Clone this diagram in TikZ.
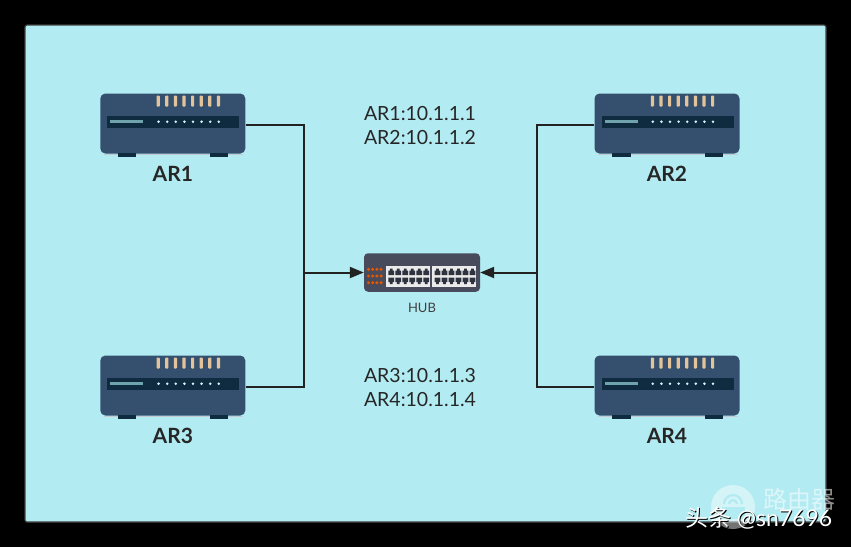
\documentclass[tikz,border=0pt]{standalone}
\usepackage{fontspec}
\setmainfont{Lato}
\newfontfamily\cjk{Noto Sans CJK SC}
\usetikzlibrary{arrows.meta}
\definecolor{panelc}{HTML}{B2EBF2}
\definecolor{rbody}{HTML}{34506E}
\definecolor{rdark}{HTML}{0F2B3F}
\definecolor{rled}{HTML}{E3C49A}
\definecolor{rbar}{HTML}{6FA3AE}
\definecolor{hubc}{HTML}{474B5C}
\definecolor{portc}{HTML}{2F3340}
\definecolor{linec}{HTML}{222222}
\tikzset{
 x=1pt,y=-1pt,
 routerbox/.style={fill=rbody,rounded corners=5pt,minimum width=145pt,minimum height=60pt,inner sep=0pt,draw=none},
 hubbox/.style={fill=hubc,rounded corners=4pt,minimum width=116pt,minimum height=38.5pt,inner sep=0pt,draw=none},
 namelabel/.style={font=\fontsize{21}{23}\selectfont\bfseries,text=black!85,inner sep=0pt},
 iplabel/.style={font=\fontsize{19.5}{23.5}\selectfont,text=black!85,align=center,inner sep=0pt},
 hublabel/.style={font=\fontsize{13}{15}\selectfont,text=black!75,inner sep=0pt},
 link/.style={draw=linec,line width=2pt},
 linkarrow/.style={link,-{Triangle[length=14pt,width=11pt]}},
 router/.pic={
  \fill[white!70!rbody] (-69,30.5) rectangle (70.5,31.5);
  \fill[rdark] (-55,29.5) rectangle (-36.5,33);
  \fill[rdark] (37.5,29.5) rectangle (55.5,33);
  \fill[rdark] (-65.5,-8) rectangle (66.5,4.5);
  \fill[rbar] (-62.5,-3.5) rectangle (-29.5,-0.5);
  \foreach \i in {0,...,7}{
   \fill[rled,rounded corners=0.8pt] ({-16.2+8.6*\i},-28) rectangle ++(3.2,11);
   \fill[white!85!cyan] ({-14.2+8.6*\i},-1.8) circle (1.4);
  }
 },
 hubports/.pic={
  \fill[white!92!black] (0,0) rectangle (44,21.3);
  \foreach \i in {0,...,5}{
   \fill[portc] ({2.4+7*\i},9) -- ++(0,-4.5) -- ++(1.5,0) -- ++(0,-2) -- ++(2.6,0) -- ++(0,2) -- ++(1.5,0) -- ++(0,4.5) -- cycle;
   \fill[portc] ({2.4+7*\i},11.5) -- ++(0,4.5) -- ++(1.5,0) -- ++(0,2) -- ++(2.6,0) -- ++(0,-2) -- ++(1.5,0) -- ++(0,-4.5) -- cycle;
  }
 }
}
\begin{document}
\begin{tikzpicture}
\useasboundingbox (0,0) rectangle (851,547);
\fill[black] (0,0) rectangle (851,547);
\node[fill=panelc,draw=black!75,line width=1.2pt,rounded corners=2pt,minimum width=801pt,minimum height=497pt,inner sep=0pt] (panel) at (425.5,273.5) {};
% routers
\node[routerbox] (ar1) at (172.8,123.5) {};
\node[routerbox] (ar2) at (667,123.5) {};
\node[routerbox] (ar3) at (172.8,385.5) {};
\node[routerbox] (ar4) at (667,385.5) {};
\pic at (ar1.center) {router};
\pic at (ar2.center) {router};
\pic at (ar3.center) {router};
\pic at (ar4.center) {router};
% hub
\node[hubbox] (hub) at (422,272.5) {};
\foreach \r in {269.3,276,282.7}{
 \foreach \c in {368.5,372.7,376.9,381.1}{
  \fill[orange!75!red!90!black] (\c,\r) circle (1.7);
 }
}
\pic at (386,266) {hubports};
\pic at (432.3,266) {hubports};
% connectors
\coordinate (jl) at (304,272.5);
\coordinate (jr) at (537,272.5);
\draw[link] (ar1.east |- 0,125) -| (jl);
\draw[link] (ar3.east |- 0,386.5) -| (jl);
\draw[link] (ar2.west |- 0,125) -| (jr);
\draw[link] (ar4.west |- 0,386.5) -| (jr);
\draw[linkarrow] (jl) -- (hub.west);
\draw[linkarrow] (jr) -- (hub.east);
% labels
\node[namelabel] (l1) at (172.8,173.5) {AR1};
\node[namelabel] (l2) at (667,173.5) {AR2};
\node[namelabel] (l3) at (172.8,435.5) {AR3};
\node[namelabel] (l4) at (667,435.5) {AR4};
\node[hublabel] (lh) at (422,308) {HUB};
\node[iplabel] (ip12) at (420,125.5) {AR1:10.1.1.1\\AR2:10.1.1.2};
\node[iplabel] (ip34) at (420,387.5) {AR3:10.1.1.3\\AR4:10.1.1.4};
% watermark
\fill[white,opacity=.45] (733,507) circle (22);
\draw[panelc,line width=2.2pt] (724,504) arc (180:360:9);
\draw[panelc,line width=2.2pt] (729,504) arc (180:360:4);
\fill[panelc] (722,507) rectangle (745,519);
\node[inner sep=0pt,text=white,opacity=.55,font=\cjk\fontsize{24}{26}\selectfont] (wm) at (799,499) {路由器};
\node[inner sep=0pt,text=black,font=\fontsize{23}{25}\selectfont] (wsh) at (760,519) {\cjk 头条 \rmfamily @sn7696};
\node[inner sep=0pt,text=white,font=\fontsize{23}{25}\selectfont] (ws) at (759,518) {\cjk 头条 \rmfamily @sn7696};
\end{tikzpicture}
\end{document}
